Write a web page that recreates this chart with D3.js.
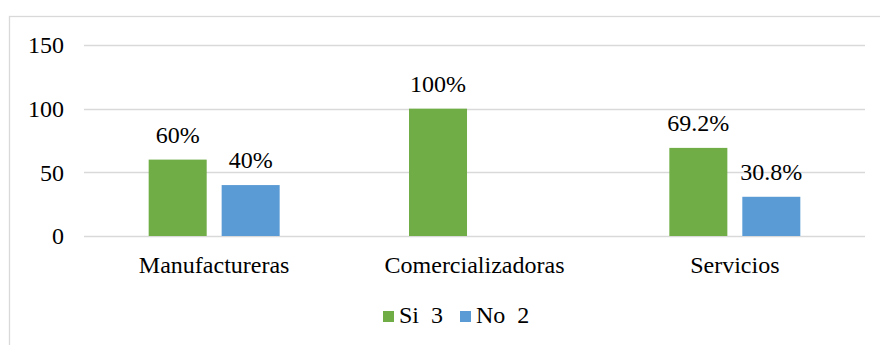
<!DOCTYPE html>
<html>
<head>
<meta charset="utf-8">
<script src="https://cdn.jsdelivr.net/npm/d3@7/dist/d3.min.js"></script>
</head>
<body style="margin:0;background:#fff">
<svg id="chart" width="880" height="345"></svg>
<script>
// Empresas por sector: porcentaje de respuestas Si / No
const categories = ["Manufactureras", "Comercializadoras", "Servicios"];
const seriesNames = ["Si  3", "No  2"];
const siValues = [60, 100, 69.2];
const noValues = [40, 0, 30.8];
const yTicks = [0, 50, 100, 150];
const colors = ["#70ad47", "#5b9bd5"];

const serifFamily = "Liberation Serif";
const fontSize = 24;
const svg = d3.select("#chart");
const margin = { left: 84, right: 15, top: 45, bottom: 109 };
const W = 880, H = 345;

// outer chart frame (extends past the window on the right and bottom)
svg.append("rect")
  .attr("x", 9.5).attr("y", 16.5)
  .attr("width", 900).attr("height", 400)
  .attr("fill", "none").attr("stroke", "#d9d9d9").attr("stroke-width", 1.3);

const x = d3.scaleBand().domain(categories)
  .range([margin.left, W - margin.right]).paddingInner(0).paddingOuter(0);
const y = d3.scaleLinear().domain([0, 150]).range([H - margin.bottom, margin.top]);

// position of the two bars inside a category
const sub = d3.scaleBand().domain([0, 1])
  .range([-65.5, 65.5]).paddingInner(0.205).paddingOuter(0);

// gridlines
svg.append("g").selectAll("line").data(yTicks).join("line")
  .attr("x1", margin.left).attr("x2", W - margin.right)
  .attr("y1", d => Math.round(y(d)) + 0.5).attr("y2", d => Math.round(y(d)) + 0.5)
  .attr("stroke", "#d9d9d9").attr("stroke-width", 1.5);

// y axis labels
const yAxis = d3.axisLeft(y).tickValues(yTicks).tickSize(0).tickPadding(20);
const gy = svg.append("g").attr("transform", `translate(${margin.left},0)`).call(yAxis);
gy.select(".domain").remove();
gy.selectAll("text").attr("fill", "#000").attr("font-size", fontSize).style("font-family", serifFamily);

// x axis labels
const xAxis = d3.axisBottom(x).tickSize(0).tickPadding(20);
const gx = svg.append("g").attr("transform", `translate(0,${y(0)})`).call(xAxis);
gx.select(".domain").remove();
gx.selectAll("text").attr("fill", "#000").attr("font-size", fontSize).style("font-family", serifFamily);

const rows = categories.map((c, i) => ({ cat: c, vals: [siValues[i], noValues[i]] }));

const groups = svg.append("g").selectAll("g").data(rows).join("g")
  .attr("transform", d => `translate(${x(d.cat) + x.bandwidth() / 2},0)`);

groups.selectAll("rect").data(d => d.vals.map((v, k) => ({ v, k }))).join("rect")
  .attr("x", d => sub(d.k))
  .attr("width", sub.bandwidth())
  .attr("y", d => y(d.v))
  .attr("height", d => y(0) - y(d.v))
  .attr("fill", d => colors[d.k]);

// value labels above the bars (none for empty bars)
groups.selectAll("text.val").data(d => d.vals.map((v, k) => ({ v, k })).filter(e => e.v > 0))
  .join("text").attr("class", "val")
  .attr("x", d => sub(d.k) + sub.bandwidth() / 2)
  .attr("y", d => y(d.v) - 17)
  .attr("text-anchor", "middle")
  .attr("font-size", fontSize)
  .style("font-family", serifFamily)
  .attr("fill", "#000")
  .text(d => d.v + "%");

// legend
const legend = svg.append("g");
const legendItems = [{ name: seriesNames[0], x: 383 }, { name: seriesNames[1], x: 460 }];
legendItems.forEach((it, k) => {
  legend.append("rect").attr("x", it.x).attr("y", 311).attr("width", 11).attr("height", 11)
    .attr("fill", colors[k]);
  legend.append("text").attr("x", it.x + 16).attr("y", 323)
    .attr("font-size", fontSize).style("font-family", serifFamily).style("white-space", "pre")
    .attr("fill", "#000").text(it.name);
});
</script>
</body>
</html>
